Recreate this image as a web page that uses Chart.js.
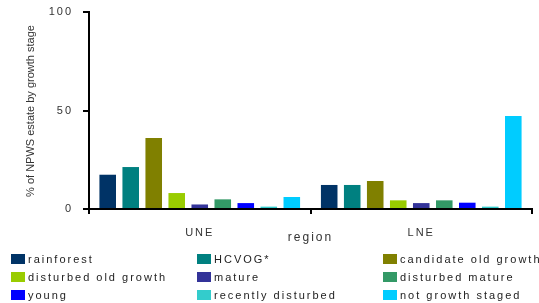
<!DOCTYPE html>
<html>
<head>
<meta charset="utf-8">
<script src="https://cdn.jsdelivr.net/npm/chart.js@4/dist/chart.umd.min.js"></script>
<style>
  html, body { margin: 0; padding: 0; background: #fff; }
  #wrap { position: relative; width: 539px; height: 303px; overflow: hidden; }
  #c { position: absolute; left: 0; top: 0; }
  #ytitle { position: absolute; left: 30px; top: 111px; transform: translate(-50%, -50%) rotate(-90deg);
    font: 11px "Liberation Sans", Arial, sans-serif; color: #333; white-space: nowrap; }
  .lg { position: absolute; font: 11px "Liberation Sans", Arial, sans-serif; color: #222;
    letter-spacing: 2px; white-space: nowrap; line-height: 12px; }
  .lg i { position: absolute; left: 0; top: 1px; width: 14px; height: 10px; }
  .lg span { position: absolute; left: 17px; top: 0; }
</style>
</head>
<body>
<div id="wrap">
  <canvas id="c" width="539" height="303"></canvas>
  <div id="ytitle">% of NPWS estate by growth stage</div>
  <div id="legend"></div>
</div>
<script>
// ---- data ----
const regions = ['UNE', 'LNE'];
const seriesNames = ['rainforest', 'HCVOG*', 'candidate old growth', 'disturbed old growth', 'mature',
  'disturbed mature', 'young', 'recently disturbed', 'not growth staged'];
const rainforest = [17.4, 12.2];
const hcvog = [21.3, 12.2];
const candidateOldGrowth = [36.0, 14.2];
const disturbedOldGrowth = [8.1, 4.4];
const mature = [2.3, 3.0];
const disturbedMature = [4.9, 4.4];
const young = [3.0, 3.2];
const recentlyDisturbed = [1.2, 1.2];
const notGrowthStaged = [6.1, 47.2];
const yTicks = [0, 50, 100];
const xTitle = 'region';

const seriesValues = [rainforest, hcvog, candidateOldGrowth, disturbedOldGrowth, mature,
  disturbedMature, young, recentlyDisturbed, notGrowthStaged];
const colors = ['#003366', '#008080', '#808000', '#99CC00', '#333399',
  '#339966', '#0000FF', '#33CCCC', '#00CCFF'];

// ---- HTML legend (3 columns) ----
const legendEl = document.getElementById('legend');
const colX = [11, 197, 383];
const rowY = [253, 271, 289];
seriesNames.forEach((name, i) => {
  const d = document.createElement('div');
  d.className = 'lg';
  d.style.left = colX[i % 3] + 'px';
  d.style.top = rowY[Math.floor(i / 3)] + 'px';
  d.innerHTML = '<i style="background:' + colors[i] + '"></i><span></span>';
  d.querySelector('span').textContent = name;
  legendEl.appendChild(d);
});

const spacing = {
  id: 'spacing',
  beforeUpdate(c) { c.ctx.letterSpacing = '2px'; },
  beforeLayout(c) { c.ctx.letterSpacing = '2px'; },
  beforeDraw(c) { c.ctx.letterSpacing = '2px'; }
};

new Chart(document.getElementById('c'), {
  type: 'bar',
  data: {
    labels: regions,
    datasets: seriesNames.map((n, i) => ({
      label: n,
      data: seriesValues[i],
      backgroundColor: colors[i],
      borderWidth: 0,
      barPercentage: 0.72,
      categoryPercentage: 0.935
    }))
  },
  options: {
    responsive: false,
    animation: false,
    devicePixelRatio: 1,
    layout: { padding: { left: 0, right: 7, top: 12, bottom: 0 } },
    plugins: { legend: { display: false }, tooltip: { enabled: false } },
    scales: {
      x: {
        offset: true,
        grid: { display: true, drawOnChartArea: false, drawTicks: true, tickLength: 5, color: '#000', lineWidth: 2, offset: true },
        border: { display: true, color: '#000', width: 2 },
        ticks: { color: '#333', font: { family: '"Liberation Sans", Arial, sans-serif', size: 11 }, padding: 12, maxRotation: 0 },
        title: { display: true, text: xTitle, color: '#333', font: { family: '"Liberation Sans", Arial, sans-serif', size: 12 }, padding: { top: 0, bottom: 58 } },
        afterFit(s) { s.height = 94; s.paddingLeft = 0; s.paddingRight = 0; }
      },
      y: {
        min: 0, max: 100,
        afterBuildTicks(s) { s.ticks = yTicks.map(v => ({ value: v })); },
        grid: { display: true, drawOnChartArea: false, drawTicks: true, tickLength: 6, color: '#000', lineWidth: 2 },
        border: { display: true, color: '#000', width: 2 },
        ticks: { color: '#333', font: { family: '"Liberation Sans", Arial, sans-serif', size: 11 }, padding: 10 },
        afterFit(s) { s.width = 89; s.paddingTop = 0; s.paddingBottom = 0; }
      }
    }
  },
  plugins: [spacing]
});
</script>
</body>
</html>
